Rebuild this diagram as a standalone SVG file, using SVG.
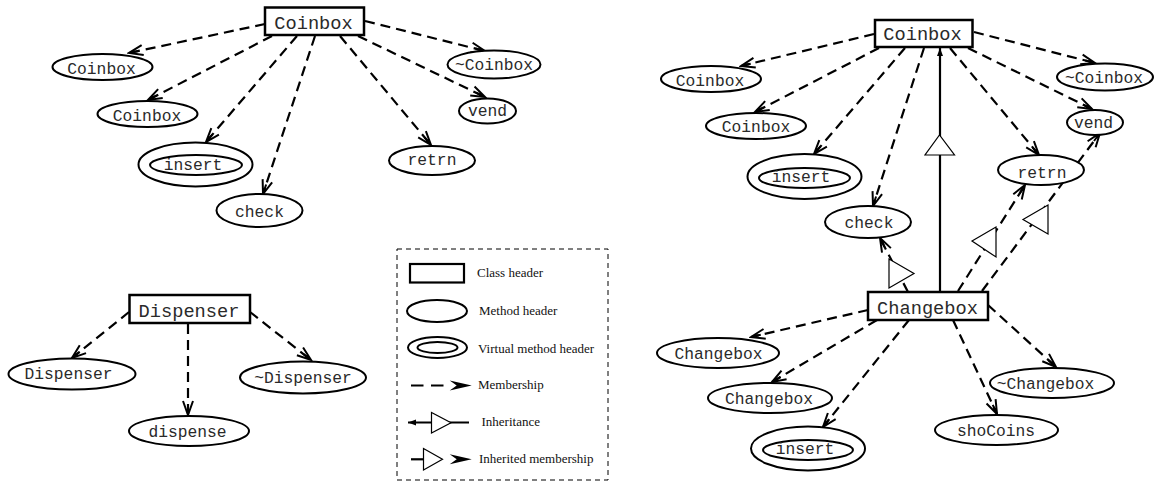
<svg xmlns="http://www.w3.org/2000/svg" width="1154" height="482" viewBox="0 0 1154 482">
  <style>
    .cls { fill: #fff; stroke: #000; stroke-width: 2.5; }
    .mth { fill: #fff; stroke: #000; stroke-width: 2; }
    .ct { font-family: "Liberation Mono", "Courier New", monospace; font-size: 18.7px; fill: #2a2a2a; text-anchor: middle; }
    .mt { font-family: "Liberation Mono", "Courier New", monospace; font-size: 16.3px; fill: #2a2a2a; text-anchor: middle; }
    .lt { font-family: "Liberation Serif", "Times New Roman", serif; font-size: 13px; fill: #111; }
    .mem { fill: none; stroke: #000; stroke-width: 2.2; stroke-dasharray: 10 6; marker-end: url(#arrow); }
    .inh { fill: none; stroke: #000; stroke-width: 2.2; }
    .tri { fill: #fff; stroke: #000; stroke-width: 1.2; }
  </style>
  <defs>
    <marker id="arrow" markerUnits="userSpaceOnUse" viewBox="-16 -8 18 16" markerWidth="18" markerHeight="16" refX="0" refY="0" orient="auto">
      <path d="M-14,-5 L0,0 L-14,5 M-10,0 L0,0" fill="none" stroke="#000" stroke-width="2" stroke-linejoin="miter"/>
    </marker>
    <marker id="small" markerUnits="userSpaceOnUse" viewBox="-9 -5 10 10" markerWidth="10" markerHeight="10" refX="0" refY="0" orient="auto">
      <path d="M0,0 L-8,-3 L-8,3 Z" fill="#000"/>
    </marker>
    <!-- filled notched head used in the legend samples -->
    <path id="legend-head" d="M0,0 L-22,-5 L-15,0 L-22,5 Z" fill="#000"/>
  </defs>

  <!-- Connectors -->
  <g id="connectors">
    <!-- Coinbox (left) members -->
    <line class="mem" x1="265" y1="24" x2="129" y2="53"/>
    <line class="mem" x1="272" y1="36" x2="148" y2="100"/>
    <line class="mem" x1="297" y1="36" x2="206" y2="142"/>
    <line class="mem" x1="315" y1="36" x2="263" y2="194"/>
    <line class="mem" x1="340" y1="36" x2="431" y2="145"/>
    <line class="mem" x1="358" y1="36" x2="485" y2="97"/>
    <line class="mem" x1="365" y1="21" x2="485" y2="51"/>

    <!-- Dispenser members -->
    <line class="mem" x1="129" y1="312" x2="72" y2="358"/>
    <line class="mem" x1="188" y1="324" x2="188" y2="415"/>
    <line class="mem" x1="250" y1="312" x2="311" y2="360"/>

    <!-- Coinbox (right) members -->
    <line class="mem" x1="874" y1="34" x2="741" y2="66"/>
    <line class="mem" x1="879" y1="48" x2="755" y2="112"/>
    <line class="mem" x1="905" y1="48" x2="814" y2="154"/>
    <line class="mem" x1="924" y1="48" x2="873" y2="206"/>
    <line class="mem" x1="950" y1="48" x2="1039" y2="155"/>
    <line class="mem" x1="968" y1="48" x2="1092" y2="109"/>
    <line class="mem" x1="974" y1="32" x2="1095" y2="63"/>

    <!-- Changebox inherits from Coinbox -->
    <line class="inh" x1="940" y1="292" x2="940" y2="48" marker-end="url(#small)"/>
    <polygon class="tri" points="925,155 954.5,155 939.5,135"/>

    <!-- Changebox inherited members -->
    <line class="mem" x1="908" y1="292" x2="880" y2="238"/>
    <polygon class="tri" points="889,259 889,288 914,273.5"/>
    <line class="mem" x1="958" y1="291" x2="1025" y2="185"/>
    <polygon class="tri" points="972,241 996,227 996,257"/>
    <line class="mem" x1="982" y1="291" x2="1100" y2="133"/>
    <polygon class="tri" points="1023,219.5 1048,205 1048,234"/>

    <!-- Changebox members -->
    <line class="mem" x1="868" y1="310" x2="751" y2="337"/>
    <line class="mem" x1="877" y1="320" x2="772" y2="382"/>
    <line class="mem" x1="909" y1="320" x2="823" y2="427"/>
    <line class="mem" x1="953" y1="320" x2="997" y2="414"/>
    <line class="mem" x1="988" y1="305" x2="1056" y2="367"/>
  </g>

  <!-- Coinbox (left) -->
  <g id="coinbox-l">
    <rect class="cls" x="265" y="7.5" width="99" height="27.5"/>
    <text class="ct" x="313.5" y="28.5">Coinbox</text>
  </g>
  <g id="coinbox-l-ctor1">
    <ellipse class="mth" cx="102.5" cy="67" rx="50" ry="13"/>
    <text class="mt" x="101.5" y="73.5">Coinbox</text>
  </g>
  <g id="coinbox-l-ctor2">
    <ellipse class="mth" cx="147.5" cy="114" rx="50" ry="13"/>
    <text class="mt" x="147" y="120.5">Coinbox</text>
  </g>
  <g id="coinbox-l-insert">
    <ellipse class="mth" cx="195.5" cy="164.5" rx="57" ry="22"/>
    <ellipse class="mth" cx="196" cy="165" rx="46" ry="10"/>
    <text class="mt" x="193" y="169.5">insert</text>
  </g>
  <g id="coinbox-l-check">
    <ellipse class="mth" cx="259.5" cy="210.5" rx="43" ry="16.5"/>
    <text class="mt" x="259.5" y="217">check</text>
  </g>
  <g id="coinbox-l-retrn">
    <ellipse class="mth" cx="432" cy="160.5" rx="43" ry="14.5"/>
    <text class="mt" x="432" y="164.5">retrn</text>
  </g>
  <g id="coinbox-l-vend">
    <ellipse class="mth" cx="487.5" cy="111" rx="28.5" ry="12.5"/>
    <text class="mt" x="487.5" y="115.5">vend</text>
  </g>
  <g id="coinbox-l-dtor">
    <ellipse class="mth" cx="494" cy="64.5" rx="46.5" ry="14"/>
    <text class="mt" x="494" y="70">~Coinbox</text>
  </g>

  <!-- Dispenser -->
  <g id="dispenser">
    <rect class="cls" x="129.5" y="295" width="120.5" height="28"/>
    <text class="ct" x="189" y="317">Dispenser</text>
  </g>
  <g id="dispenser-ctor">
    <ellipse class="mth" cx="72" cy="374" rx="63.5" ry="15.5"/>
    <text class="mt" x="68.5" y="379">Dispenser</text>
  </g>
  <g id="dispenser-dispense">
    <ellipse class="mth" cx="189" cy="431" rx="60" ry="15"/>
    <text class="mt" x="187.5" y="436.5">dispense</text>
  </g>
  <g id="dispenser-dtor">
    <ellipse class="mth" cx="303" cy="377.5" rx="63" ry="16"/>
    <text class="mt" x="303" y="382.5">~Dispenser</text>
  </g>

  <!-- Coinbox (right) -->
  <g id="coinbox-r">
    <rect class="cls" x="875" y="20" width="97.5" height="27"/>
    <text class="ct" x="922.5" y="40">Coinbox</text>
  </g>
  <g id="coinbox-r-ctor1">
    <ellipse class="mth" cx="711" cy="79" rx="50" ry="13"/>
    <text class="mt" x="710" y="85.5">Coinbox</text>
  </g>
  <g id="coinbox-r-ctor2">
    <ellipse class="mth" cx="756" cy="126" rx="50" ry="13"/>
    <text class="mt" x="756" y="131.5">Coinbox</text>
  </g>
  <g id="coinbox-r-insert">
    <ellipse class="mth" cx="804.5" cy="176.5" rx="57" ry="22.5"/>
    <ellipse class="mth" cx="804.5" cy="178" rx="45.5" ry="10"/>
    <text class="mt" x="801" y="181.5">insert</text>
  </g>
  <g id="coinbox-r-check">
    <ellipse class="mth" cx="868" cy="222" rx="43" ry="16"/>
    <text class="mt" x="869" y="228">check</text>
  </g>
  <g id="coinbox-r-retrn">
    <ellipse class="mth" cx="1041" cy="170" rx="43" ry="15"/>
    <text class="mt" x="1042" y="178">retrn</text>
  </g>
  <g id="coinbox-r-vend">
    <ellipse class="mth" cx="1095" cy="122.5" rx="28" ry="12.5"/>
    <text class="mt" x="1093.5" y="128">vend</text>
  </g>
  <g id="coinbox-r-dtor">
    <ellipse class="mth" cx="1105" cy="77" rx="48" ry="13.5"/>
    <text class="mt" x="1104" y="82.5">~Coinbox</text>
  </g>

  <!-- Changebox -->
  <g id="changebox">
    <rect class="cls" x="868" y="292" width="120" height="28"/>
    <text class="ct" x="927.5" y="314">Changebox</text>
  </g>
  <g id="changebox-ctor1">
    <ellipse class="mth" cx="718" cy="353" rx="61" ry="15"/>
    <text class="mt" x="718.5" y="359">Changebox</text>
  </g>
  <g id="changebox-ctor2">
    <ellipse class="mth" cx="770" cy="398" rx="62" ry="15"/>
    <text class="mt" x="769" y="404">Changebox</text>
  </g>
  <g id="changebox-insert">
    <ellipse class="mth" cx="808" cy="448.5" rx="57" ry="22"/>
    <ellipse class="mth" cx="808" cy="450" rx="45" ry="10"/>
    <text class="mt" x="805" y="454">insert</text>
  </g>
  <g id="changebox-shocoins">
    <ellipse class="mth" cx="996.5" cy="430" rx="61.5" ry="15"/>
    <text class="mt" x="996" y="436">shoCoins</text>
  </g>
  <g id="changebox-dtor">
    <ellipse class="mth" cx="1052" cy="383" rx="62" ry="15"/>
    <text class="mt" x="1045.5" y="389">~Changebox</text>
  </g>

  <!-- Legend -->
  <g id="legend">
    <rect x="397" y="249" width="211" height="231" fill="none" stroke="#000" stroke-width="1" stroke-dasharray="5 4"/>
    <rect class="cls" x="410" y="264" width="54" height="18.5" style="stroke-width:2.2"/>
    <text class="lt" x="477" y="276.5">Class header</text>
    <ellipse class="mth" cx="437" cy="311" rx="30" ry="11"/>
    <text class="lt" x="479" y="315">Method header</text>
    <ellipse class="mth" cx="437.5" cy="347.5" rx="29.5" ry="10.5"/>
    <ellipse class="mth" cx="437.5" cy="347.5" rx="20" ry="5.5"/>
    <text class="lt" x="478" y="353">Virtual method header</text>
    <line x1="411" y1="385.5" x2="444" y2="385.5" stroke="#000" stroke-width="2.2" stroke-dasharray="12.5 7.5"/>
    <use href="#legend-head" x="471.7" y="385.5"/>
    <text class="lt" x="478" y="388.5">Membership</text>
    <line class="inh" x1="469" y1="422.5" x2="408" y2="422.5" marker-end="url(#small)"/>
    <polygon class="tri" points="431.5,412.5 431.5,433 451,422.7"/>
    <text class="lt" x="481.5" y="425.5">Inheritance</text>
    <line class="inh" x1="411" y1="459.3" x2="424" y2="459.3"/>
    <polygon class="tri" points="423.5,448.5 423.5,470 442.5,459.3"/>
    <use href="#legend-head" x="471.7" y="459.3"/>
    <text class="lt" x="479" y="462.5">Inherited membership</text>
  </g>
</svg>
